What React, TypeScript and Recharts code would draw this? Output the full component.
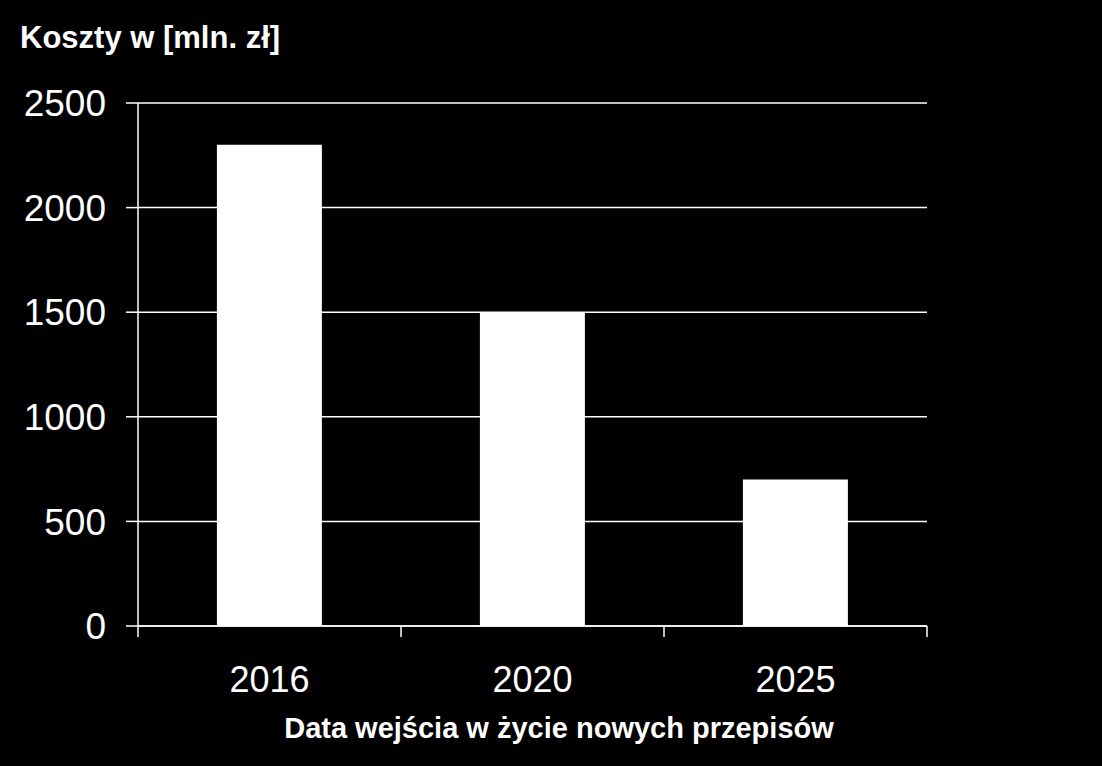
import { BarChart, Bar, XAxis, YAxis, CartesianGrid } from 'recharts'

const years = ['2016', '2020', '2025']
const costs = [2300, 1500, 700]
const yTicks = [0, 500, 1000, 1500, 2000, 2500]

const title = 'Koszty w [mln. zł]'
const xTitle = 'Data wejścia w życie nowych przepisów'

const data = years.map((year, i) => ({ year, cost: costs[i] }))

const font = '"Liberation Sans", Arial, sans-serif'
const X_TICK_MARGIN = 40
const EDGE_TICK = 11

// year label plus tick marks on the category boundaries (payload.offset = half band)
const YearTick = (props: any) => {
  const { x, y, payload, index, visibleTicksCount } = props
  const half = payload?.offset ?? 0
  const axisY = y - X_TICK_MARGIN
  const isLast = index === visibleTicksCount - 1
  return (
    <g>
      <line x1={x - half} x2={x - half} y1={axisY} y2={axisY + EDGE_TICK} stroke="#fff" strokeWidth={1.5} />
      {isLast && (
        <line x1={x + half} x2={x + half} y1={axisY} y2={axisY + EDGE_TICK} stroke="#fff" strokeWidth={1.5} />
      )}
      <text x={x} y={y} dy="0.71em" textAnchor="middle" fill="#fff" fontSize={36} fontFamily={font}>
        {payload.value}
      </text>
    </g>
  )
}

export default function App() {
  return (
    <div style={{ position: 'absolute', left: 0, top: 0, width: 1102, height: 766, background: '#000' }}>
      <BarChart
        width={1102}
        height={766}
        data={data}
        margin={{ top: 103, right: 175, left: 0, bottom: 0 }}
        barCategoryGap="30%"
      >
        <CartesianGrid horizontal vertical={false} stroke="#fff" strokeWidth={1.5} />
        <XAxis
          dataKey="year"
          height={140}
          tickSize={0}
          tickMargin={X_TICK_MARGIN}
          tickLine={false}
          axisLine={{ stroke: '#fff', strokeWidth: 1.5 }}
          tick={<YearTick />}
        />
        <YAxis
          width={138}
          domain={[0, 2500]}
          ticks={yTicks}
          interval={0}
          tickSize={12}
          tickMargin={20}
          axisLine={{ stroke: '#fff', strokeWidth: 1.5 }}
          tickLine={{ stroke: '#fff', strokeWidth: 1.5 }}
          tick={{ fill: '#fff', fontSize: 37, fontFamily: font }}
        />
        <Bar dataKey="cost" fill="#fff" isAnimationActive={false} />
      </BarChart>
      <svg
        width={1102}
        height={766}
        style={{ position: 'absolute', left: 0, top: 0, pointerEvents: 'none' }}
      >
        <text x={20} y={48} fill="#fff" fontSize={31} fontWeight="bold" fontFamily={font}>
          {title}
        </text>
        <text x={559} y={738} fill="#fff" fontSize={29} fontWeight="bold" fontFamily={font} textAnchor="middle">
          {xTitle}
        </text>
      </svg>
    </div>
  )
}
